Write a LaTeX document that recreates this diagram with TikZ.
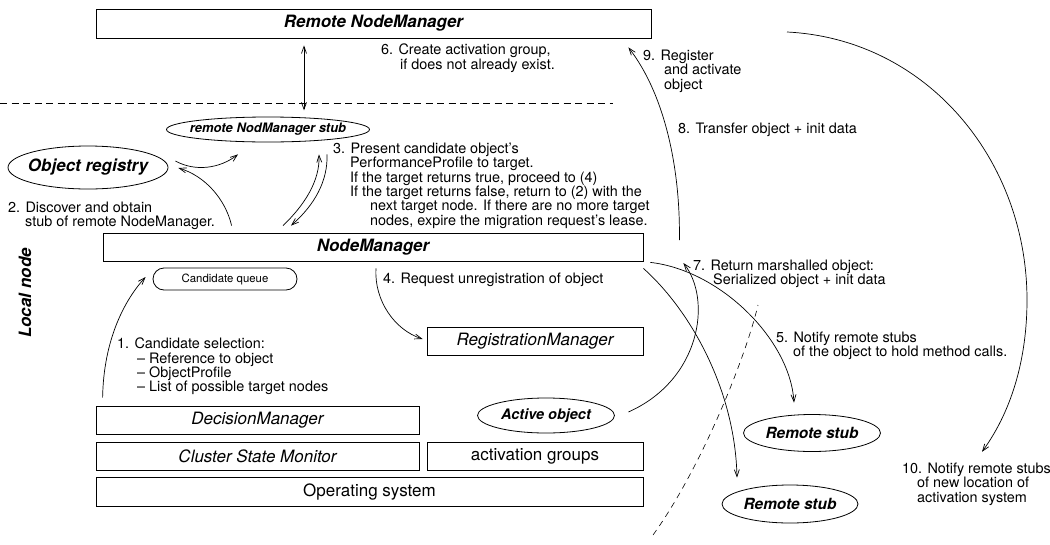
\documentclass[tikz,border=0pt]{standalone}
\usepackage{fontspec}
\setmainfont{TeX Gyre Heros}
\usetikzlibrary{shapes.geometric,arrows.meta,calc}

\newcommand{\bigbi}{\fontsize{17}{20}\selectfont\bfseries\itshape}
\newcommand{\indto}[1]{\hspace*{#1pt}}

\tikzset{
  box/.style={draw, line width=0.8pt, inner sep=0pt, minimum height=28pt, font=\fontsize{17}{20}\selectfont\itshape},
  blob/.style={draw, ellipse, line width=0.8pt, inner xsep=-8pt, inner ysep=0pt},
  note/.style={anchor=north west, inner sep=0pt, align=left, font=\fontsize{14.4}{14.3}\selectfont},
  flow/.style={line width=0.7pt, -{Straight Barb[length=7pt,width=5pt]}},
  flowboth/.style={line width=0.7pt, {Straight Barb[length=7pt,width=5pt]}-{Straight Barb[length=7pt,width=5pt]}},
}

\begin{document}
\begin{tikzpicture}[x=1pt, y=-1pt]

\path[use as bounding box] (0,0) rectangle (1050,544);

% remote node
\node[box, font=\bigbi, minimum width=555pt, minimum height=29pt] (rnm) at (373.5,23.5) {Remote NodeManager};
\draw[line width=0.6pt, dash pattern=on 7pt off 4.5pt] (0,103) -- (613,103);

% local node
\node[blob, font=\fontsize{13}{15}\selectfont\bfseries\itshape, minimum width=203pt, minimum height=25pt] (stub) at (268,129.5) {remote NodManager stub};
\node[blob, font=\bigbi, minimum width=160pt, minimum height=43pt] (reg) at (88,167.5) {Object registry};
\node[box, font=\bigbi, minimum width=540pt] (nm) at (373,247) {NodeManager};
\node[draw, line width=0.8pt, rounded corners=11pt, inner sep=0pt, minimum width=144pt, minimum height=22pt, font=\fontsize{11.4}{13}\selectfont] (queue) at (225,279) {Candidate queue};
\node[box, minimum width=216pt] (regm) at (535,341) {RegistrationManager};
\node[box, minimum width=323pt] (dm) at (257.5,420) {DecisionManager};
\node[box, minimum width=323pt] (csm) at (257.5,456) {Cluster State Monitor};
\node[box, font=\fontsize{17}{20}\selectfont, minimum width=216pt] (actg) at (535,456) {activation groups};
\node[box, font=\fontsize{17}{20}\selectfont, minimum width=547pt, minimum height=29pt] (os) at (369.5,491.5) {Operating system};
\node[blob, inner xsep=0pt, font=\fontsize{14.5}{17}\selectfont\bfseries\itshape, minimum width=137pt, minimum height=35pt] (act) at (546,415.5) {Active object};
\node[rotate=90, inner sep=0pt, font=\bigbi] (local) at (25,293) {Local node};

% remote stubs
\node[blob, inner xsep=0pt, font=\fontsize{15.4}{18}\selectfont\bfseries\itshape, minimum width=137pt, minimum height=37pt] (rs1) at (812,433) {Remote stub};
\node[blob, inner xsep=0pt, font=\fontsize{15.4}{18}\selectfont\bfseries\itshape, minimum width=136pt, minimum height=38pt] (rs2) at (790,504) {Remote stub};

% step labels
\node[note] (n1) at (117,337.8) {1. Candidate selection:\\\indto{20}-- Reference to object\\\indto{20}-- ObjectProfile\\\indto{20}-- List of possible target nodes};
\node[note] (n2) at (8,201.8) {2. Discover and obtain\\\indto{17}stub of remote NodeManager.};
\node[note] (n3) at (333,142.8) {3. Present candidate object's\\\indto{17}PerformanceProfile to target.\\\indto{17}If the target returns true, proceed to (4)\\\indto{17}If the target returns false, return to (2) with the\\\indto{37}next target node. If there are no more target\\\indto{37}nodes, expire the migration request's lease.};
\node[note] (n4) at (383,272.8) {4. Request unregistration of object};
\node[note] (n5) at (776,331.8) {5. Notify remote stubs\\\indto{17}of the object to hold method calls.};
\node[note] (n6) at (381,43.8) {6. Create activation group,\\\indto{19}if does not already exist.};
\node[note] (n7) at (693,259.8) {7. Return marshalled object:\\\indto{20}Serialized object + init data};
\node[note] (n8) at (678,122.8) {8. Transfer object + init data};
\node[note] (n9) at (643,49.8) {9. Register\\\indto{21}and activate\\\indto{21}object};
\node[note] (n10) at (902,462.8) {10. Notify remote stubs\\\indto{15}of new location of\\\indto{15}activation system};

% connectors
\draw[flowboth] ($(rnm.south)+(-69.5,7)$) -- ($(rnm.south)+(-69.5,72)$);
\draw[flow] ($(reg.east)+(7,-6.5)$) .. controls +(20,11) and +(-18,14) .. ($(stub.south)+(-30,12)$);
\draw[flow] ($(nm.north west)+(129,-7)$) .. controls +(-6,-26) and +(27,8) .. ($(reg.east)+(10,0.5)$);
\draw[flow] ($(nm.north)+(-90,-7)$) .. controls +(22,-21) and +(1,26) .. ($(stub.south)+(51,12)$);
\draw[flow] ($(stub.south)+(59,12)$) .. controls +(1,26) and +(24,-21) .. ($(nm.north)+(-82,-7)$);
\draw[flow] ($(dm.north west)+(7,-8)$) .. controls +(1,-58) and +(-21,23) .. ($(queue.west)+(-7,-2)$);
\draw[flow] ($(nm.south)+(3,7)$) .. controls +(-2,32) and +(-28,-9) .. ($(regm.west)+(-4,-2)$);
\draw[flow] ($(nm.south east)+(7,1)$) .. controls +(70,8) and +(-4,-63) .. ($(rs1.north)+(-18,-11.5)$);
\draw[flow] ($(nm.south east)+(0,7)$) .. controls +(47,42) and +(-2,-88) .. ($(rs2.north)+(-53,-7)$);
\draw[flow] ($(act.east)+(13.5,-3.5)$) .. controls +(72,-32) and +(29,37) .. ($(nm.east)+(40,16)$);
\draw[flow] ($(nm.east)+(36,-7)$) .. controls +(1,-70) and +(37,48) .. ($(rnm.south east)+(-23,9)$);

\coordinate (arcstart) at (787,32);
\draw[flow] (arcstart) .. controls +(140,7) and +(0,-140) .. (1027,300) .. controls +(0,54) and +(32,-44) .. ($(n10.north west)+(80,-11)$);

% border between the nodes
\draw[line width=0.6pt, dash pattern=on 6pt off 5pt] (653,535) .. controls (700,470) and (745,360) .. (758,305);

\end{tikzpicture}
\end{document}
